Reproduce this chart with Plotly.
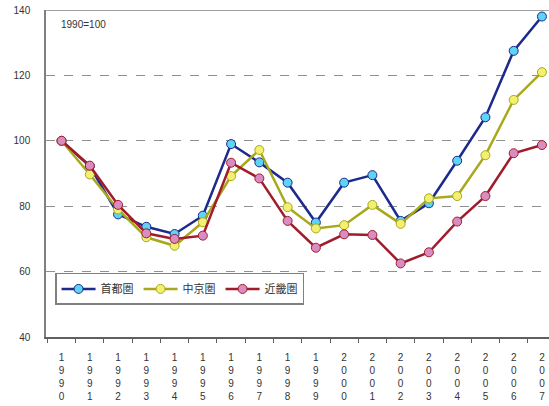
import plotly.graph_objects as go

years = [str(y) for y in range(1990, 2008)]
tick_labels = ["<br>".join(list(y)) for y in years]

shutoken = [100, 92.2, 77.5, 73.7, 71.5, 77.1, 99.0, 93.4, 87.2, 75.0,
            87.2, 89.5, 75.5, 80.9, 93.9, 107.2, 127.5, 138.0]
chukyoken = [100, 89.7, 79.0, 70.5, 67.9, 75.1, 89.2, 97.2, 79.7, 73.2,
             74.2, 80.4, 74.6, 82.4, 83.1, 95.6, 112.5, 121.0]
kinkiken = [100, 92.4, 80.4, 71.7, 70.0, 71.0, 93.3, 88.5, 75.5, 67.3,
            71.4, 71.2, 62.5, 65.9, 75.3, 83.1, 96.2, 98.7]

series = [
    ("首都圏", shutoken, "#1c2a8c", "#5fd3f3"),
    ("中京圏", chukyoken, "#a8a81c", "#f3ef70"),
    ("近畿圏", kinkiken, "#a01c2c", "#d98cbf"),
]

fig = go.Figure()
for name, vals, line_c, marker_c in series:
    fig.add_trace(go.Scatter(
        x=tick_labels, y=vals, name=name, mode="lines+markers",
        line=dict(color=line_c, width=2.5),
        marker=dict(size=9, color=marker_c, line=dict(color=line_c, width=1)),
    ))

fig.add_shape(type="line", xref="paper", yref="y", x0=0, x1=1, y0=140, y1=140,
              line=dict(color="#808080", width=1.5))

fig.add_annotation(text="1990=100", xref="paper", yref="paper", x=0.026, y=0.955,
                   xanchor="left", yanchor="middle", showarrow=False,
                   font=dict(size=10, color="#333333"))

fig.update_layout(
    width=549, height=406,
    margin=dict(l=46, r=0, t=10, b=69),
    plot_bgcolor="white", paper_bgcolor="white",
    font=dict(family="Liberation Sans, Noto Sans CJK JP, sans-serif", size=10, color="#333333"),
    showlegend=True,
    legend=dict(orientation="h", x=0.018, y=0.196, xanchor="left", yanchor="top",
                bordercolor="#808080", borderwidth=1.5, bgcolor="white",
                font=dict(size=11, family="Noto Sans CJK JP, sans-serif", color="#333333"),
                itemwidth=34, tracegroupgap=0),
    xaxis=dict(type="category", range=[-0.55, 17.25], showgrid=False,
               showline=True, linecolor="#606060", linewidth=1.5,
               ticks="outside", tickson="boundaries", ticklen=4, tickcolor="#606060",
               ticklabelstandoff=10,
               tickangle=0, tickfont=dict(size=10, color="#333333")),
    yaxis=dict(range=[40, 140], tickvals=[40, 60, 80, 100, 120, 140],
               showgrid=True, gridcolor="#909090", griddash="dash", gridwidth=1.2,
               showline=True, linecolor="#808080", linewidth=1.5,
               ticks="", ticklabelstandoff=12, zeroline=False,
               tickfont=dict(size=10, color="#333333")),
)

fig.write_html("out.html")
